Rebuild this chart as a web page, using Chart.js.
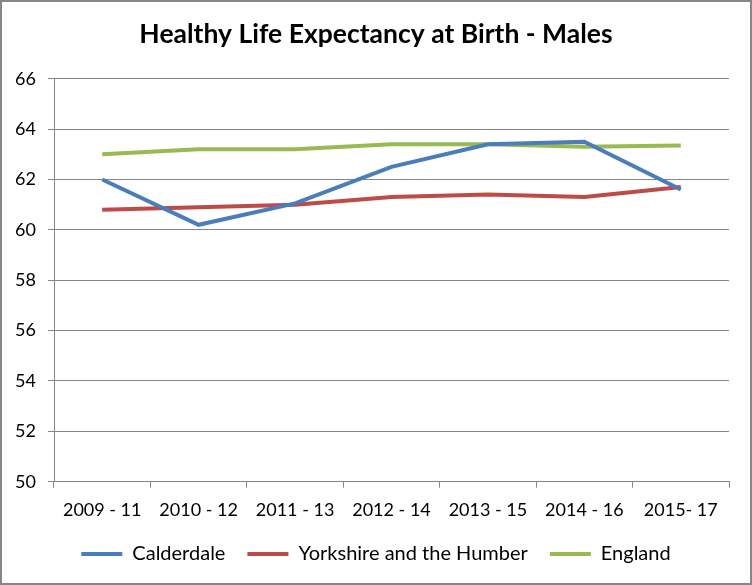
<!DOCTYPE html>
<html>
<head>
<meta charset="utf-8">
<script src="https://cdn.jsdelivr.net/npm/chart.js@4.4.1/dist/chart.umd.min.js"></script>
<style>
  html, body { margin: 0; padding: 0; background: #fff; }
  #wrap { width: 752px; height: 585px; box-sizing: border-box; border: 2px solid #878787; background: #fff; }
  canvas { display: block; }
</style>
</head>
<body>
<div id="wrap"><canvas id="c" width="748" height="581"></canvas></div>
<script>
const chartTitle = 'Healthy Life Expectancy at Birth - Males';
const categories = ['2009 - 11', '2010 - 12', '2011 - 13', '2012 - 14', '2013 - 15', '2014 - 16', '2015- 17'];
const seriesNames = ['Calderdale', 'Yorkshire and the Humber', 'England'];
const calderdale = [62.0, 60.2, 61.05, 62.5, 63.4, 63.5, 61.6];
const yorkshire = [60.8, 60.9, 61.0, 61.3, 61.4, 61.3, 61.7];
const england = [63.0, 63.2, 63.2, 63.4, 63.4, 63.3, 63.35];
const yMin = 50, yMax = 66, yStep = 2;

const colors = ['#4A7EBB', '#BE4B48', '#98B954'];
const gridColor = '#868686';
Chart.defaults.font.family = 'Lato';

const seriesValues = [calderdale, yorkshire, england];
const datasets = seriesNames.map((name, i) => ({
  label: name,
  data: seriesValues[i],
  borderColor: colors[i],
  backgroundColor: colors[i],
  borderWidth: 4,
  pointRadius: 0,
  pointHoverRadius: 0,
  tension: 0,
  fill: false,
  yAxisID: 'y'
}));

new Chart(document.getElementById('c'), {
  type: 'line',
  data: { labels: categories, datasets },
  options: {
    responsive: false,
    animation: false,
    devicePixelRatio: 1,
    layout: { padding: { left: 0, right: 0, top: 0, bottom: 9 } },
    plugins: {
      title: {
        display: true,
        text: chartTitle,
        color: '#000',
        font: { family: 'Lato', size: 26.5, weight: 'bold' },
        padding: { top: 17, bottom: 27.9 }
      },
      legend: {
        position: 'bottom',
        labels: {
          color: '#000',
          font: { family: 'Lato', size: 20 },
          boxWidth: 41,
          boxHeight: 4,
          padding: 22,
          generateLabels: (chart) => {
            const items = Chart.defaults.plugins.legend.labels.generateLabels(chart);
            items.forEach(it => { it.lineWidth = 0; it.fillStyle = it.strokeStyle; });
            return items;
          }
        }
      },
      tooltip: { enabled: false }
    },
    scales: {
      x: {
        offset: true,
        grid: { offset: true, drawOnChartArea: false, drawTicks: true, tickLength: 6, color: gridColor },
        border: { color: gridColor, width: 1 },
        ticks: { color: '#000', font: { family: 'Lato', size: 18, lineHeight: 1 }, padding: 13, maxRotation: 0, autoSkip: false },
        afterFit: (s) => { s.height = 40.3; }
      },
      y: {
        position: 'left',
        min: yMin,
        max: yMax,
        grid: { color: gridColor, tickLength: 6 },
        border: { color: gridColor, width: 1 },
        ticks: { stepSize: yStep, color: '#000', font: { family: 'Lato', size: 18 }, padding: 12 },
        afterFit: (s) => { s.width = 52; }
      },
      yRightGap: {
        type: 'linear',
        position: 'right',
        display: true,
        grid: { display: false, drawTicks: false },
        border: { display: false },
        ticks: { display: false },
        afterFit: (s) => { s.width = 21; }
      }
    }
  }
});
</script>
</body>
</html>
